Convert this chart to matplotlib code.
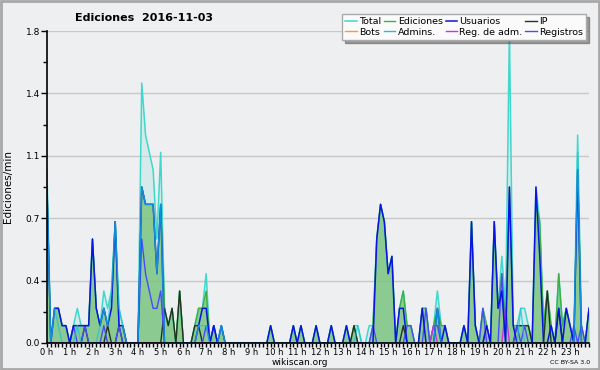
import matplotlib
matplotlib.use("Agg")
import matplotlib.pyplot as plt
import numpy as np

# 144 tranches de 10 min (0 h -> 23 h 50), valeurs en editions/min
total = [1.0, 0, 0.2, 0.2, 0.1, 0.1, 0, 0.1, 0.2, 0.1, 0.1, 0.1,
         0.6, 0.2, 0.1, 0.3, 0.2, 0.3, 0.7, 0.2, 0.1, 0, 0, 0,
         0, 1.5, 1.2, 1.1, 1.0, 0.6, 1.1, 0.2, 0.1, 0.2, 0, 0.3,
         0, 0, 0, 0.1, 0.2, 0.2, 0.4, 0, 0.1, 0, 0.1, 0,
         0, 0, 0, 0, 0, 0, 0, 0, 0, 0, 0, 0.1,
         0, 0, 0, 0, 0, 0.1, 0, 0.1, 0, 0, 0, 0.1,
         0, 0, 0, 0.1, 0, 0, 0, 0.1, 0, 0.1, 0.1, 0,
         0, 0.1, 0.1, 0.6, 0.8, 0.7, 0.4, 0.5, 0, 0.2, 0.3, 0.1,
         0.1, 0, 0, 0.2, 0.2, 0, 0.1, 0.3, 0.1, 0.1, 0, 0,
         0, 0, 0.1, 0, 0.7, 0.1, 0, 0.2, 0.1, 0, 0.7, 0.2,
         0.5, 0.2, 1.8, 0.1, 0.1, 0.2, 0.2, 0.1, 0, 0.9, 0.7, 0.1,
         0.3, 0.1, 0, 0.4, 0.1, 0.2, 0.1, 0, 1.2, 0.1, 0, 0.2]

ediciones = [0.9, 0, 0.2, 0.2, 0.1, 0.1, 0, 0.1, 0.1, 0.1, 0.1, 0.1,
             0.6, 0.2, 0.1, 0.2, 0.1, 0.2, 0.7, 0.1, 0.1, 0, 0, 0,
             0, 0.9, 0.8, 0.8, 0.8, 0.4, 0.8, 0.2, 0.1, 0.2, 0, 0.3,
             0, 0, 0, 0.1, 0.2, 0.2, 0.3, 0, 0.1, 0, 0.1, 0,
             0, 0, 0, 0, 0, 0, 0, 0, 0, 0, 0, 0.1,
             0, 0, 0, 0, 0, 0.1, 0, 0.1, 0, 0, 0, 0.1,
             0, 0, 0, 0.1, 0, 0, 0, 0.1, 0, 0.1, 0, 0,
             0, 0, 0.1, 0.6, 0.8, 0.7, 0.4, 0.5, 0, 0.2, 0.3, 0.1,
             0.1, 0, 0, 0.2, 0.2, 0, 0.1, 0.2, 0.1, 0.1, 0, 0,
             0, 0, 0.1, 0, 0.7, 0.1, 0, 0.2, 0.1, 0, 0.7, 0.2,
             0.4, 0.1, 0.9, 0.1, 0.1, 0.1, 0.1, 0.1, 0, 0.8, 0.7, 0.1,
             0.3, 0.1, 0, 0.4, 0.1, 0.2, 0.1, 0, 1.0, 0.1, 0, 0.2]

usuarios = [0.9, 0, 0.2, 0.2, 0.1, 0.1, 0, 0.1, 0.1, 0.1, 0.1, 0.1,
            0.6, 0.2, 0.1, 0.2, 0.1, 0.2, 0.7, 0.1, 0.1, 0, 0, 0,
            0, 0.9, 0.8, 0.8, 0.8, 0.4, 0.8, 0, 0, 0, 0, 0,
            0, 0, 0, 0, 0.1, 0.2, 0.2, 0, 0.1, 0, 0.1, 0,
            0, 0, 0, 0, 0, 0, 0, 0, 0, 0, 0, 0.1,
            0, 0, 0, 0, 0, 0.1, 0, 0.1, 0, 0, 0, 0.1,
            0, 0, 0, 0.1, 0, 0, 0, 0.1, 0, 0, 0, 0,
            0, 0, 0, 0.6, 0.8, 0.7, 0.4, 0.5, 0, 0.2, 0.2, 0,
            0, 0, 0, 0.2, 0, 0, 0, 0.2, 0, 0.1, 0, 0,
            0, 0, 0.1, 0, 0.7, 0.1, 0, 0, 0.1, 0, 0.7, 0.2,
            0.3, 0, 0.9, 0.1, 0, 0, 0, 0, 0, 0.9, 0.5, 0,
            0, 0.1, 0, 0.2, 0, 0.2, 0.1, 0, 1.0, 0, 0, 0.2]

ip = [0, 0, 0, 0, 0, 0, 0, 0, 0, 0, 0.1, 0,
      0, 0, 0, 0, 0.1, 0, 0, 0.1, 0, 0, 0, 0,
      0, 0, 0, 0, 0, 0, 0, 0.2, 0.1, 0.2, 0, 0.3,
      0, 0, 0, 0.1, 0.1, 0, 0, 0, 0, 0, 0, 0,
      0, 0, 0, 0, 0, 0, 0, 0, 0, 0, 0, 0,
      0, 0, 0, 0, 0, 0, 0, 0, 0, 0, 0, 0,
      0, 0, 0, 0, 0, 0, 0, 0, 0, 0.1, 0, 0,
      0, 0, 0, 0, 0, 0, 0, 0, 0, 0, 0.1, 0,
      0, 0, 0, 0, 0, 0, 0, 0, 0, 0, 0, 0,
      0, 0, 0, 0, 0, 0, 0, 0, 0, 0, 0, 0,
      0, 0, 0, 0, 0.1, 0.1, 0.1, 0.1, 0, 0, 0, 0,
      0.3, 0, 0, 0.2, 0, 0, 0, 0, 0, 0, 0, 0]

admins = [0.9, 0, 0.2, 0.1, 0, 0, 0, 0, 0.1, 0, 0, 0,
          0, 0, 0.1, 0.2, 0.1, 0.3, 0.7, 0.2, 0.1, 0, 0, 0,
          0, 0.9, 0.8, 0.8, 0.8, 0.4, 0.8, 0, 0, 0, 0, 0,
          0, 0, 0, 0, 0.1, 0.1, 0.1, 0, 0, 0, 0.1, 0,
          0, 0, 0, 0, 0, 0, 0, 0, 0, 0, 0, 0,
          0, 0, 0, 0, 0, 0, 0, 0, 0, 0, 0, 0,
          0, 0, 0, 0, 0, 0, 0, 0, 0, 0, 0.1, 0,
          0, 0, 0, 0, 0, 0, 0, 0, 0, 0, 0, 0,
          0, 0, 0, 0, 0, 0, 0, 0.2, 0, 0, 0, 0,
          0, 0, 0, 0, 0, 0, 0, 0, 0, 0, 0, 0,
          0, 0, 0, 0, 0, 0.2, 0, 0, 0, 0, 0, 0,
          0, 0, 0, 0, 0, 0, 0, 0, 1.1, 0, 0, 0]

registros = [0, 0, 0, 0, 0, 0, 0, 0.1, 0, 0, 0.1, 0,
             0, 0, 0, 0.1, 0, 0, 0, 0.1, 0, 0, 0, 0,
             0, 0.6, 0.4, 0.3, 0.2, 0.2, 0.3, 0, 0, 0, 0, 0,
             0, 0, 0, 0, 0, 0, 0.1, 0, 0.1, 0, 0, 0,
             0, 0, 0, 0, 0, 0, 0, 0, 0, 0, 0, 0,
             0, 0, 0, 0, 0, 0, 0, 0, 0, 0, 0, 0,
             0, 0, 0, 0, 0, 0, 0, 0, 0, 0, 0, 0,
             0, 0, 0.1, 0, 0, 0, 0, 0, 0, 0, 0, 0.1,
             0.1, 0, 0, 0, 0.2, 0, 0.1, 0.1, 0, 0, 0, 0,
             0, 0, 0, 0, 0, 0, 0, 0.2, 0, 0, 0, 0,
             0.4, 0, 0, 0, 0.1, 0, 0.1, 0, 0, 0, 0, 0,
             0, 0, 0, 0, 0, 0, 0, 0.1, 0, 0.1, 0, 0]

reg_adm = [0] * 102 + [0.1] + [0] * 13 + [0.1] + [0] * 4 + [0.2] + [0] * 22
bots = [0] * 144

horas = ["%d h" % h for h in range(24)]

x = np.arange(len(total))
bg = "#eeeff1"

fig = plt.figure(figsize=(6, 3.7), dpi=100, facecolor=bg)
ax = fig.add_axes([0.0783, 0.073, 0.9034, 0.8432])
ax.set_facecolor(bg)

ax.fill_between(x, total, color="#bfe9e3", alpha=0.5, lw=0)
ax.fill_between(x, ediciones, color="#6fbf6f", alpha=0.72, lw=0)
l_total, = ax.plot(x, total, color="#3fd8cc", lw=1.1)
l_edic, = ax.plot(x, ediciones, color="#3cb043", lw=1)
l_ip, = ax.plot(x, ip, color="#223322", lw=1)
l_bots, = ax.plot(x, bots, color="#f0a030", lw=1)
l_reg, = ax.plot(x, registros, color="#4a4aff", lw=1)
l_regadm, = ax.plot(x, reg_adm, color="#cc33dd", lw=1)
l_usu, = ax.plot(x, usuarios, color="#0a14e0", lw=1.1)
l_adm, = ax.plot(x, admins, color="#1cc0dc", lw=1, alpha=0.7)

ax.set_xlim(0, 143)
ax.set_ylim(0, 1.8)
yt = np.linspace(0, 1.8, 6)
ax.set_yticks(yt)
ax.set_yticklabels(["%.1f" % v for v in yt])
ax.set_yticks(yt[:-1] + 0.18, minor=True)
ax.set_xticks(np.arange(0, 144, 6))
ax.set_xticklabels(horas)
ax.set_xticks(np.arange(0, 144, 1), minor=True)
ax.tick_params(axis="y", which="major", labelsize=6.5, length=4, width=1, pad=1)
ax.tick_params(axis="x", which="major", labelsize=6, length=3, width=1, pad=0.5)
ax.tick_params(axis="both", which="minor", length=3, width=1)
ax.grid(axis="y", color="#c8c8c8", lw=1)
ax.set_axisbelow(True)
for s in ["top", "right"]:
    ax.spines[s].set_visible(False)
for s in ["left", "bottom"]:
    ax.spines[s].set_linewidth(1.2)

ax.set_ylabel("Ediciones/min", fontsize=7.5, labelpad=9)
fig.text(0.5, 0.02, "wikiscan.org", ha="center", va="center", fontsize=6.5)
fig.text(0.983, 0.02, "CC BY-SA 3.0", ha="right", va="center", fontsize=4.5)
fig.text(0.125, 0.951, "Ediciones  2016-11-03", ha="left", va="center",
         fontsize=8, fontweight="bold")

handles = [l_total, l_bots, l_edic, l_adm, l_usu, l_regadm, l_ip, l_reg]
labels = ["Total", "Bots", "Ediciones", "Admins.", "Usuarios", "Reg. de adm.", "IP", "Registros"]
leg = fig.legend(handles, labels, ncol=4, loc="upper right", bbox_to_anchor=(0.985, 0.975),
                 fontsize=6.8, handlelength=1.2, handletextpad=0.25, columnspacing=0.3,
                 labelspacing=0.15, borderpad=0.35, frameon=True, fancybox=False, shadow=True)
leg.get_frame().set_facecolor("#fafafa")
leg.get_frame().set_edgecolor("#aaaaaa")
leg.get_frame().set_alpha(1)
for h in leg.legend_handles:
    h.set_alpha(1)

fig.patches.append(plt.Rectangle((0.002, 0.003), 0.996, 0.994, transform=fig.transFigure,
                                 fill=False, edgecolor="#a8a8a8", lw=2))

fig.savefig("out.png", dpi=100, facecolor=bg)
